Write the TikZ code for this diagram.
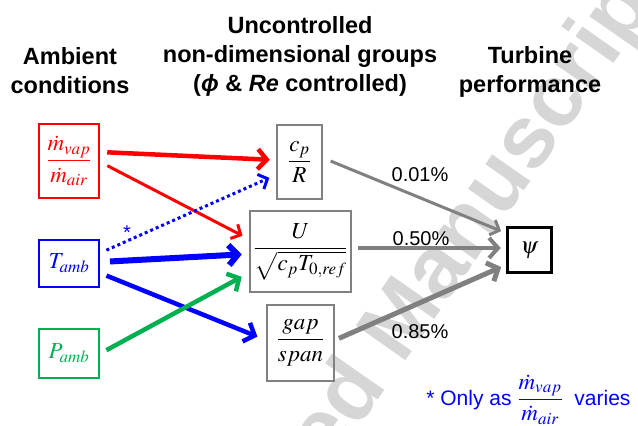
\documentclass[tikz,border=0pt]{standalone}
\usepackage{amsmath}
\usepackage{mathptmx}
\usepackage{fontspec}
\setmainfont{Liberation Sans}
\usetikzlibrary{arrows.meta}

\definecolor{ambred}{RGB}{255,0,0}
\definecolor{ambblue}{RGB}{0,0,255}
\definecolor{ambgreen}{RGB}{0,176,80}
\definecolor{grpgray}{RGB}{128,128,128}

\begin{document}
\begin{tikzpicture}[x=1pt, y=-1pt,
	every node/.style={font=\fontsize{23}{27}\selectfont},
	box/.style={draw, line width=2.5pt, inner sep=0pt},
	head/.style={font=\bfseries\fontsize{23.5}{29}\selectfont, align=center, anchor=north, inner sep=0pt},
	pct/.style={font=\fontsize{20}{24}\selectfont},
	heavy/.style={-{Straight Barb[length=9pt, width=20pt]}},
	light/.style={-{Straight Barb[length=7.5pt, width=16pt]}}]
	\useasboundingbox (0,0) rectangle (638,426);
	\begin{scope}
		\clip (0,0) rectangle (638,426);
		\node[rotate=55, text=black!16, font=\bfseries\fontsize{88}{88}\selectfont] (wm) at (398,332) {Accepted Manuscript};
	\end{scope}
	% headings
	\node[head] (hamb) at (70,47) {Ambient\\conditions};
	\node[head] (hgrp) at (300,16) {Uncontrolled\\non-dimensional groups\\(\textit{ϕ} \& \textit{Re} controlled)};
	\node[head] (hturb) at (530,46) {Turbine\\performance};
	% ambient conditions
	\node[box, draw=ambred, text=ambred, minimum width=60pt, minimum height=74pt] (vap) at (69,161) {$\dfrac{\dot m_{vap}}{\dot m_{air}}$};
	\node[box, draw=ambblue, line width=2pt, text=ambblue, minimum width=60pt, minimum height=47pt] (tamb) at (69,263.5) {$T_{amb}$};
	\node[box, draw=ambgreen, text=ambgreen, minimum width=60pt, minimum height=49pt] (pamb) at (69,353.5) {$P_{amb}$};
	% groups
	\node[box, draw=grpgray, minimum width=45pt, minimum height=74pt] (cpr) at (299.5,162) {$\dfrac{c_p}{R}$};
	\node[box, draw=grpgray, minimum width=101pt, minimum height=81pt] (ugrp) at (300.5,251.5) {$\dfrac{U}{\sqrt{c_p T_{0,ref}}}$};
	\node[box, draw=grpgray, minimum width=67pt, minimum height=76pt] (gap) at (300.5,343) {$\dfrac{gap}{span}$};
	\node[box, line width=3.5pt, minimum width=44pt, minimum height=45pt] (psi) at (529.5,250) {$\psi$};
	% ambient -> groups
	\draw[heavy, ambred, line width=4.5pt, shorten <=7pt, shorten >=6pt] ([yshift=9pt]vap.east) -- ([yshift=2pt]cpr.west);
	\draw[light, ambred, line width=3pt, shorten <=8pt, shorten >=7pt] ([yshift=-1pt]vap.east) -- ([yshift=12.5pt]ugrp.west);
	\draw[light, ambblue, line width=3pt, dash pattern=on 3pt off 3pt, shorten <=7pt, shorten >=7pt] ([yshift=10.5pt]tamb.east) -- ([yshift=-13pt]cpr.west);
	\draw[heavy, ambblue, line width=6pt, shorten <=10pt, shorten >=7pt] ([yshift=1.5pt]tamb.east) -- ([yshift=-2.5pt]ugrp.west);
	\draw[heavy, ambblue, line width=4.5pt, shorten <=7pt, shorten >=9pt] ([yshift=-9.5pt]tamb.east) -- ([yshift=3pt]gap.west);
	\draw[heavy, ambgreen, line width=4.5pt, shorten <=7pt, shorten >=8pt] (pamb.east) -- ([yshift=-21.5pt]ugrp.west);
	\node[text=ambblue, font=\fontsize{20}{24}\selectfont] (star) at (127,233) {*};
	% groups -> performance
	\draw[light, grpgray, line width=3pt, shorten <=8pt, shorten >=5pt] ([yshift=4pt]cpr.east) -- ([yshift=17pt]psi.west);
	\draw[heavy, grpgray, line width=4pt, shorten <=6pt, shorten >=5pt] ([yshift=3.5pt]ugrp.east) -- ([yshift=2pt]psi.west);
	\draw[heavy, grpgray, line width=5pt, shorten <=4pt, shorten >=5pt] ([yshift=3pt]gap.east) -- ([yshift=-15pt]psi.west);
	\node[pct, anchor=base] (p1) at (420,181) {0.01\%};
	\node[pct, anchor=base] (p2) at (421,245) {0.50\%};
	\node[pct, anchor=base] (p3) at (420,338) {0.85\%};
	\node[anchor=base east, text=ambblue, font=\fontsize{21}{25}\selectfont] (note) at (634,405) {* Only as {\fontsize{23}{27}\selectfont$\dfrac{\dot m_{vap}}{\dot m_{air}}$}\; varies};
\end{tikzpicture}
\end{document}
